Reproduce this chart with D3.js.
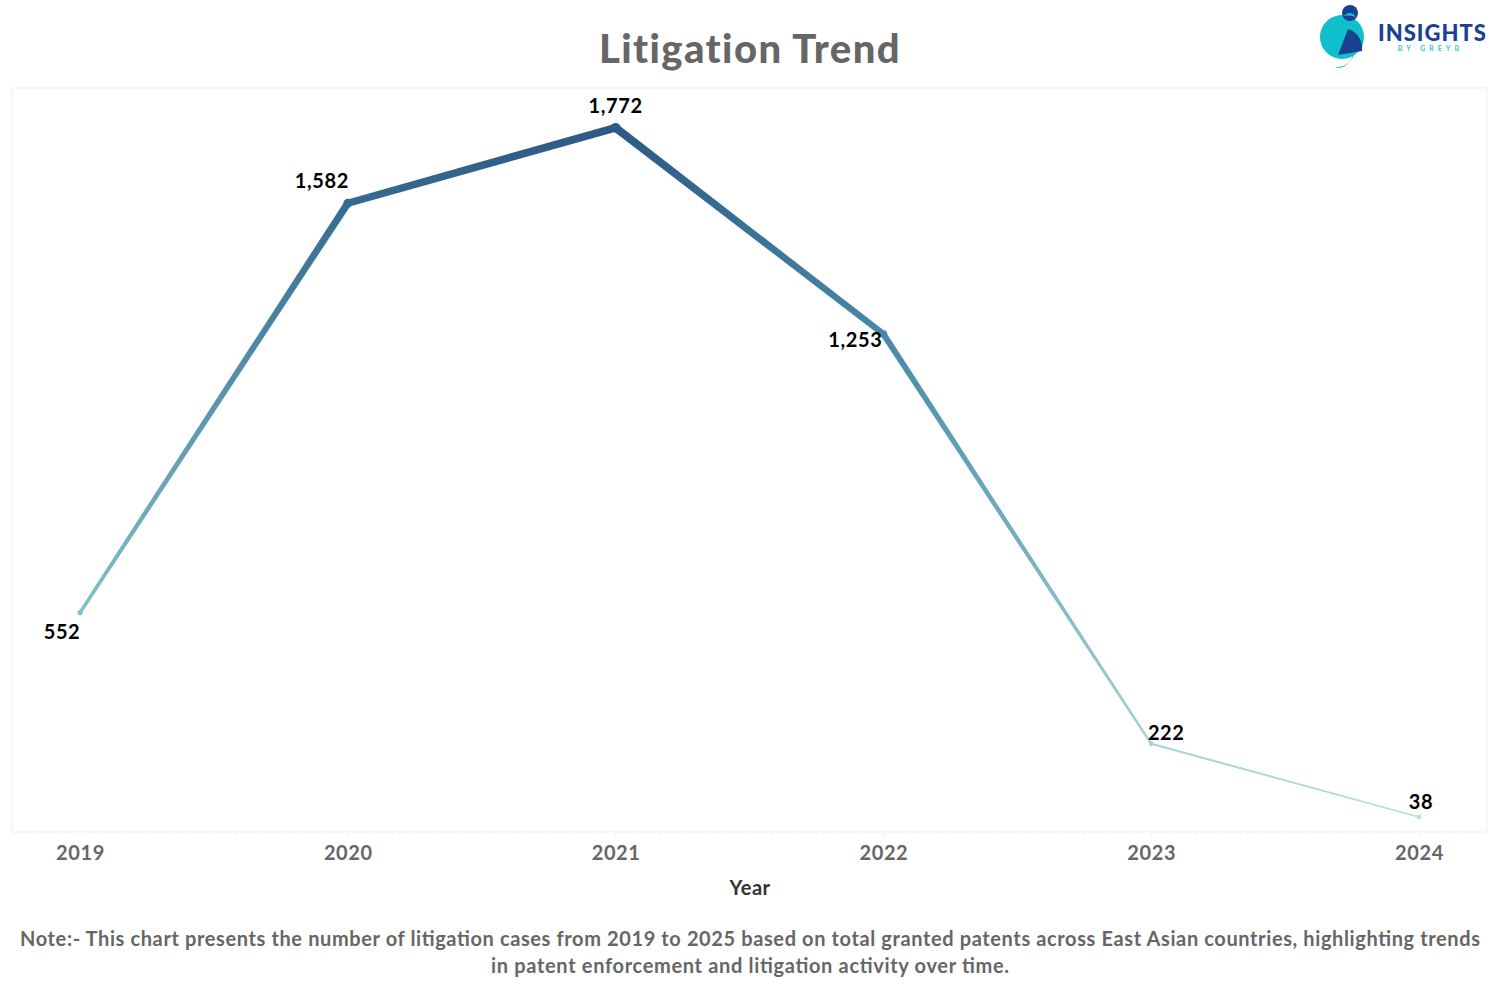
<!DOCTYPE html>
<html>
<head>
<meta charset="utf-8">
<script src="https://cdn.jsdelivr.net/npm/d3@7"></script>
<style>
  body { margin: 0; background: #fff; }
  svg { display: block; }
</style>
</head>
<body>
<div id="chart"></div>
<script>
// Litigation trend line chart

// Data
var years = ["2019", "2020", "2021", "2022", "2023", "2024"];
var cases = [552, 1582, 1772, 1253, 222, 38];
var noteLines = [
  "Note:- This chart presents the number of litigation cases from 2019 to 2025 based on total granted patents across East Asian countries, highlighting trends",
  "in patent enforcement and litigation activity over time."
];

// label placement around each point (dx, dy from point)
var labelOffset = [[-18, 19], [-26, -22], [0, -22], [-28, 6], [15, -11], [2, -15]];

var width = 1500;
var height = 1000;
var plot = { left: 12, right: 1487, top: 88, bottom: 832 };

var svg = d3.select("#chart")
  .append("svg")
  .attr("width", width)
  .attr("height", height);

var font = "Lato, 'Noto Sans', sans-serif";

// scales
var xScale = d3.scalePoint()
  .domain(years)
  .range([plot.left, plot.right])
  .padding(0.254);

var yScale = d3.scaleLinear()
  .domain([0, 1872])
  .range([plot.bottom, plot.top]);

var colorScale = d3.scaleLinear()
  .domain([38, 900, 1772])
  .range(["#b6e1d8", "#5aabbe", "#2c5985"])
  .interpolate(d3.interpolateRgb);

var widthScale = d3.scaleLinear()
  .domain([38, 1772])
  .range([1.6, 8]);

// plot frame
svg.append("rect")
  .attr("x", plot.left)
  .attr("y", plot.top)
  .attr("width", plot.right - plot.left)
  .attr("height", plot.bottom - plot.top)
  .attr("fill", "none")
  .attr("stroke", "#f0f0f0")
  .attr("stroke-width", 1);

// monthly minor ticks along the bottom
var step = xScale.step();
var minorTicks = [];
for (var i = -3; i <= years.length * 12 + 2; i++) {
  var tx = xScale(years[0]) + i * step / 12;
  if (tx >= plot.left && tx <= plot.right) minorTicks.push({ x: tx, major: i % 12 === 0 });
}
svg.append("g")
  .selectAll("line")
  .data(minorTicks)
  .enter()
  .append("line")
  .attr("x1", function(d) { return d.x; })
  .attr("x2", function(d) { return d.x; })
  .attr("y1", plot.bottom)
  .attr("y2", function(d) { return plot.bottom + (d.major ? 5 : 3); })
  .attr("stroke", "#f0f0f0")
  .attr("stroke-width", 1);

// x axis labels
var xAxis = d3.axisBottom(xScale).tickSize(0).tickPadding(14);
var xg = svg.append("g")
  .attr("transform", "translate(0," + plot.bottom + ")")
  .call(xAxis);
xg.select(".domain").remove();
xg.selectAll("text")
  .attr("font-family", font)
  .attr("font-weight", "bold")
  .attr("font-size", 20)
  .attr("letter-spacing", 0.6)
  .attr("fill", "#666666");

svg.append("text")
  .attr("x", 750)
  .attr("y", 895)
  .attr("text-anchor", "middle")
  .attr("font-family", font)
  .attr("font-weight", "bold")
  .attr("font-size", 20)
  .attr("letter-spacing", 0.5)
  .attr("fill", "#333333")
  .text("Year");

// line segments with tapered width and colour gradient
var pts = years.map(function(y, i) {
  return { year: y, value: cases[i], x: xScale(y), y: yScale(cases[i]) };
});

var defs = svg.append("defs");
var segs = d3.pairs(pts);

segs.forEach(function(s, i) {
  var a = s[0], b = s[1];
  var gid = "seg" + i;
  var grad = defs.append("linearGradient")
    .attr("id", gid)
    .attr("gradientUnits", "userSpaceOnUse")
    .attr("x1", a.x).attr("y1", a.y)
    .attr("x2", b.x).attr("y2", b.y);
  grad.append("stop").attr("offset", "0%").attr("stop-color", colorScale(a.value));
  grad.append("stop").attr("offset", "100%").attr("stop-color", colorScale(b.value));

  var dx = b.x - a.x, dy = b.y - a.y;
  var len = Math.sqrt(dx * dx + dy * dy);
  var nx = -dy / len, ny = dx / len;
  var wa = widthScale(a.value) / 2, wb = widthScale(b.value) / 2;
  var poly = [
    [a.x + nx * wa, a.y + ny * wa],
    [b.x + nx * wb, b.y + ny * wb],
    [b.x - nx * wb, b.y - ny * wb],
    [a.x - nx * wa, a.y - ny * wa]
  ];
  svg.append("path")
    .attr("d", d3.line()(poly) + "Z")
    .attr("fill", "url(#" + gid + ")");
});

// joints / points
svg.append("g")
  .selectAll("circle")
  .data(pts)
  .enter()
  .append("circle")
  .attr("cx", function(d) { return d.x; })
  .attr("cy", function(d) { return d.y; })
  .attr("r", function(d) { return Math.max(2.4, widthScale(d.value) / 2 + 0.8); })
  .attr("fill", function(d) { return colorScale(d.value); });

// value labels
var fmt = d3.format(",");
svg.append("g")
  .selectAll("text")
  .data(pts)
  .enter()
  .append("text")
  .attr("x", function(d, i) { return d.x + labelOffset[i][0]; })
  .attr("y", function(d, i) { return d.y + labelOffset[i][1]; })
  .attr("dy", "0.35em")
  .attr("text-anchor", "middle")
  .attr("font-family", font)
  .attr("font-weight", "bold")
  .attr("font-size", 20)
  .attr("letter-spacing", 0.6)
  .attr("fill", "#000")
  .text(function(d) { return fmt(d.value); });

// title
svg.append("text")
  .attr("x", 750)
  .attr("y", 63)
  .attr("text-anchor", "middle")
  .attr("font-family", font)
  .attr("font-weight", 900)
  .attr("font-size", 40)
  .attr("letter-spacing", 1.4)
  .attr("fill", "#666666")
  .text("Litigation Trend");

// note
var noteWidths = [1460, 518];
svg.append("g")
  .selectAll("text")
  .data(noteLines)
  .enter()
  .append("text")
  .attr("x", 750)
  .attr("y", function(d, i) { return 946 + i * 27; })
  .attr("text-anchor", "middle")
  .attr("font-family", font)
  .attr("font-weight", "bold")
  .attr("font-size", 20)
  .attr("textLength", function(d, i) { return noteWidths[i]; })
  .attr("lengthAdjust", "spacing")
  .attr("fill", "#666666")
  .text(function(d) { return d; });

// logo
var logo = svg.append("g").attr("transform", "translate(1342,37)");
logo.append("circle").attr("cx", 0).attr("cy", 0).attr("r", 22).attr("fill", "#0fbfcc");
logo.append("path")
  .attr("d", "M-8,30 C2,34 12,24 12,10 L12,18 C8,28 -2,31 -8,30 Z")
  .attr("fill", "#0fbfcc");
logo.append("path")
  .attr("d", "M6,-8 A20,20 0 0 1 20,14 L-4,18 Z")
  .attr("fill", "#1b3f93");
logo.append("circle").attr("cx", 8).attr("cy", -24).attr("r", 8).attr("fill", "#1b3f93");
logo.append("path")
  .attr("d", "M6,-24 A8,8 0 0 1 14,-20 A22,22 0 0 0 1,-21 Z")
  .attr("fill", "#0fbfcc");

svg.append("text")
  .attr("x", 1378)
  .attr("y", 41)
  .attr("font-family", font)
  .attr("font-weight", 900)
  .attr("font-size", 22)
  .attr("letter-spacing", 1)
  .attr("fill", "#1b3f93")
  .text("INSIGHTS");

svg.append("text")
  .attr("x", 1463)
  .attr("y", 51)
  .attr("text-anchor", "end")
  .attr("font-family", font)
  .attr("font-weight", "bold")
  .attr("font-size", 7)
  .attr("letter-spacing", 4)
  .attr("fill", "#3cc3d6")
  .text("BY GREYB");
</script>
</body>
</html>
